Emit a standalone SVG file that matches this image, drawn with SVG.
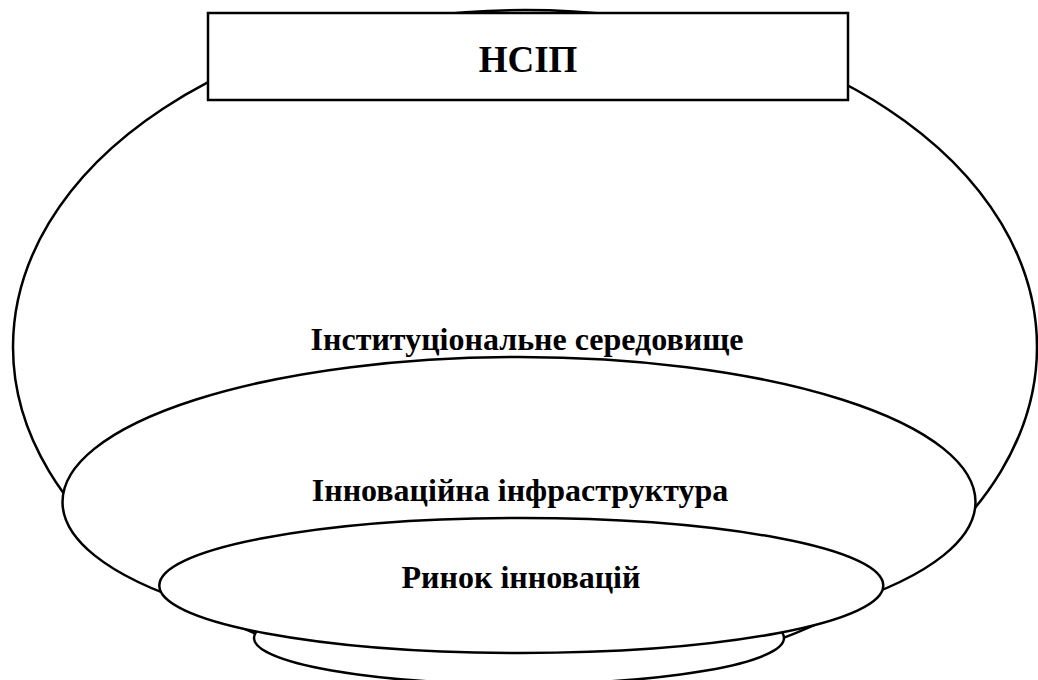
<svg xmlns="http://www.w3.org/2000/svg" width="1038" height="680" viewBox="0 0 1038 680">
<style>
.sh{fill:#fff;stroke:#000;stroke-width:2.5}
.t{font-family:"Liberation Serif","Times New Roman",serif;font-weight:bold;fill:#000;text-anchor:middle}
.lbl{font-size:32px}
</style>
<rect width="1038" height="680" fill="#fff"/>
<g id="institutional">
<ellipse class="sh" cx="525" cy="347" rx="512" ry="337"/>
<text class="t lbl" x="527" y="350">Інституціональне середовище</text>
</g>
<g id="base">
<ellipse class="sh" cx="519" cy="638" rx="265" ry="46"/>
</g>
<g id="infrastructure">
<ellipse class="sh" cx="519" cy="502" rx="456.5" ry="145"/>
<text class="t lbl" x="520" y="501">Інноваційна інфраструктура</text>
</g>
<g id="market">
<ellipse class="sh" cx="521.3" cy="585.5" rx="362" ry="67.5"/>
<text class="t lbl" x="521" y="588">Ринок інновацій</text>
</g>
<g id="nsip">
<rect class="sh" x="208" y="13" width="640" height="87"/>
<text class="t" x="528" y="72" font-size="37">НСІП</text>
</g>
<g id="connectors"/>
</svg>
